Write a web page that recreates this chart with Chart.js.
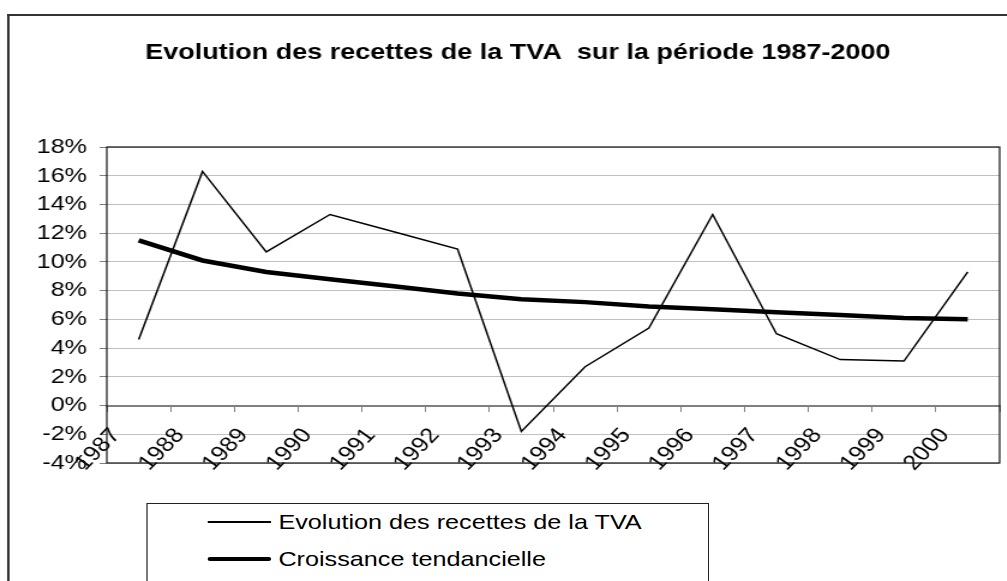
<!DOCTYPE html>
<html>
<head>
<meta charset="utf-8">
<title>Evolution des recettes de la TVA</title>
<script src="https://cdn.jsdelivr.net/npm/chart.js@4/dist/chart.umd.min.js"></script>
<style>
html, body { margin: 0; padding: 0; overflow: hidden; background: #fff; }
/* the source picture is stretched sideways, so the whole chart is drawn narrow and widened */
#wrap { position: relative; width: 839px; height: 581px; transform: scaleX(1.2); transform-origin: 0 0; }
#frame { position: absolute; left: 6px; top: 14px; width: 1000px; height: 700px;
         border-left: 2px solid #333; border-top: 2px solid #333; }
#chart { position: absolute; left: 0; top: 0; }
#legend { position: absolute; left: 122px; top: 503px; width: 467px; height: 120px;
          border: 1.2px solid #222; background: #fff;
          font: 21px "Liberation Sans", Arial, sans-serif; color: #000; }
#legend .swatch { position: absolute; left: 50px; width: 53px; background: #000; }
#legend .label { position: absolute; left: 109px; line-height: 24px; white-space: nowrap; }
</style>
</head>
<body>
<div id="wrap">
  <div id="frame"></div>
  <canvas id="chart" width="839" height="581"></canvas>
  <div id="legend"></div>
</div>
<script>
const years = ["1987", "1988", "1989", "1990", "1991", "1992", "1993",
               "1994", "1995", "1996", "1997", "1998", "1999", "2000"];
const recettes = [4.6, 16.3, 10.7, 13.3, 12.1, 10.9, -1.8, 2.7, 5.4, 13.3, 5.0, 3.2, 3.1, 9.3];
const tendance = [11.5, 10.1, 9.3, 8.8, 8.3, 7.8, 7.4, 7.2, 6.9, 6.7, 6.5, 6.3, 6.1, 6.0];
const yMin = -4;
const yMax = 18;
const yStep = 2;

Chart.defaults.font.family = '"Liberation Sans", Arial, sans-serif';
Chart.defaults.color = "#000";

// black box round the plot area
const plotFrame = {
    id: "plotFrame",
    beforeDatasetsDraw(chart) {
        const a = chart.chartArea;
        const ctx = chart.ctx;
        ctx.save();
        ctx.strokeStyle = "#111";
        ctx.lineWidth = 1.2;
        ctx.strokeRect(a.left, a.top, a.right - a.left, a.bottom - a.top);
        ctx.restore();
    }
};

const chart = new Chart(document.getElementById("chart"), {
    type: "line",
    data: {
        labels: years,
        datasets: [{
            label: "Evolution des recettes de la TVA",
            data: recettes,
            borderColor: "#000",
            borderWidth: 1.5,
            pointRadius: 0,
            tension: 0,
            fill: false
        }, {
            label: "Croissance tendancielle",
            data: tendance,
            borderColor: "#000",
            borderWidth: 4.5,
            pointRadius: 0,
            tension: 0,
            fill: false
        }]
    },
    options: {
        responsive: false,
        animation: false,
        events: [],
        // left padding is larger so the title sits a bit right of centre, as in the original
        layout: { padding: { top: 39, left: 30, right: 6, bottom: 118 } },
        plugins: {
            legend: { display: false },
            tooltip: { enabled: false },
            title: {
                display: true,
                text: "Evolution des recettes de la TVA  sur la période 1987-2000",
                font: { size: 22.5, weight: "bold" },
                color: "#000",
                padding: { top: 0, bottom: 81 }
            }
        },
        scales: {
            x: {
                type: "category",
                position: { y: 0 },
                offset: true,
                grid: {
                    offset: true,
                    drawOnChartArea: false,
                    tickLength: 5,
                    tickColor: "#808080"
                },
                border: { color: "#808080", width: 2 },
                ticks: {
                    autoSkip: false,
                    minRotation: 50,
                    maxRotation: 50,
                    labelOffset: -19,
                    padding: 13,
                    font: { size: 21 }
                }
            },
            y: {
                min: yMin,
                max: yMax,
                afterFit: function(scale) {
                    scale.width = 59;
                },
                grid: {
                    color: "#c0c0c0",
                    tickColor: "#808080",
                    tickLength: 6
                },
                border: { display: false },
                ticks: {
                    stepSize: yStep,
                    padding: 10.5,
                    font: { size: 21 },
                    callback: function(value) {
                        return value + "%";
                    }
                }
            }
        }
    },
    plugins: [plotFrame]
});

// legend box, stacked entries like the original
const rowCenters = [18, 55];
const legend = document.getElementById("legend");
chart.data.datasets.forEach((ds, i) => {
    const sw = document.createElement("div");
    sw.className = "swatch";
    sw.style.height = ds.borderWidth + "px";
    sw.style.top = (rowCenters[i] - ds.borderWidth / 2) + "px";
    sw.style.borderRadius = (ds.borderWidth / 2) + "px";
    legend.appendChild(sw);

    const lab = document.createElement("span");
    lab.className = "label";
    lab.textContent = ds.label;
    lab.style.top = (rowCenters[i] - 12) + "px";
    legend.appendChild(lab);
});
</script>
</body>
</html>
